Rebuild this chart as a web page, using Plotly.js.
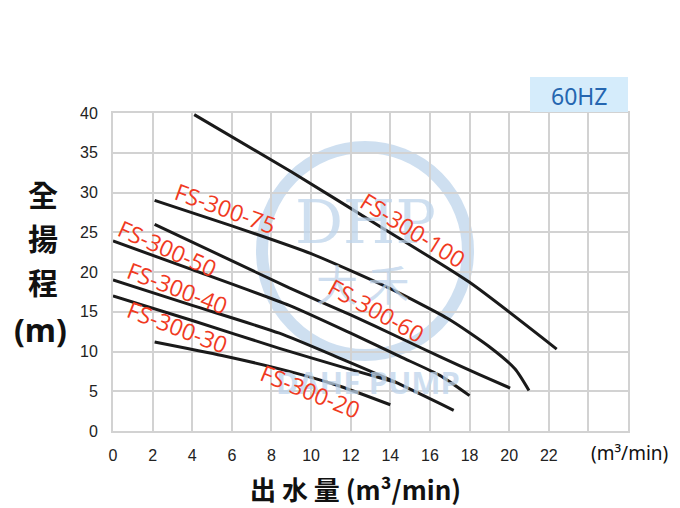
<!DOCTYPE html>
<html>
<head>
<meta charset="utf-8">
<script src="https://cdn.plot.ly/plotly-3.0.1.min.js"></script>
<style>html,body{margin:0;padding:0;background:#fff;}#chart{width:680px;height:508px;}</style>
</head>
<body>
<div id="chart"></div>
<script>
// ---- data (flow m3/min, head m) ----
const flow100 = [4.1, 9.0, 13.5, 18.0, 22.4];
const head100 = [39.8, 32.6, 25.7, 18.7, 10.3];
const flow75 = [2.1, 6.0, 10.0, 14.0, 17.0, 19.0, 20.3, 21.0];
const head75 = [29.0, 25.8, 22.3, 17.9, 14.0, 10.6, 7.8, 5.1];
const flow60 = [2.1, 5.5, 8.9, 12.0, 14.5, 16.5, 18.5, 20.05];
const head60 = [26.0, 22.0, 18.0, 14.6, 11.7, 9.35, 7.1, 5.4];
const flow50 = [0, 4.0, 8.9, 12.0, 14.5, 16.5, 18.0];
const head50 = [23.9, 20.3, 15.8, 12.3, 9.35, 7.0, 4.45];
const flow40 = [0, 4.0, 8.4, 11.5, 14.2, 17.2];
const head40 = [19.0, 15.8, 12.3, 9.1, 6.2, 2.6];
const flow30 = [0, 4.0, 8.4, 11.5, 14.3];
const head30 = [17.0, 13.9, 10.4, 8.1, 6.1];
const flow20 = [2.1, 5.5, 8.9, 11.5, 14.0];
const head20 = [11.2, 9.5, 7.5, 5.6, 3.3];

const xTickVals = [0, 2, 4, 6, 8, 10, 12, 14, 16, 18, 20, 22, 24, 26];
const xTickText = ['0','2','4','6','8','10','12','14','16','18','20','22','',''];
const yTickVals = [0, 5, 10, 15, 20, 25, 30, 35, 40];

const modelNames = ['FS-300-100','FS-300-75','FS-300-60','FS-300-50','FS-300-40','FS-300-30','FS-300-20'];
const series = [[flow100,head100],[flow75,head75],[flow60,head60],[flow50,head50],[flow40,head40],[flow30,head30],[flow20,head20]];

// label placement (data coords) and angles
const labelX = [15.15, 5.66, 13.28, 2.73, 3.28, 3.28, 9.95];
const labelY = [25.3, 28.05, 15.2, 23.0, 18.0, 13.1, 5.03];
const labelAngle = [32, 20, 29, 24, 21, 21, 22];

const traces = series.map((s, i) => ({
  x: s[0], y: s[1], type: 'scatter', mode: 'lines', name: modelNames[i],
  line: {color: '#1a1a1a', width: 3, shape: 'spline', smoothing: 0.6},
  hoverinfo: 'skip'
}));

const wm = 'rgba(190,212,235,0.75)';
const C = {xanchor: 'center', yanchor: 'middle', showarrow: false};
const annotations = modelNames.map((n, i) => Object.assign({
  x: labelX[i], y: labelY[i], xref: 'x', yref: 'y', text: n,
  textangle: labelAngle[i], font: {family: 'Open Sans, Noto Sans, sans-serif', size: 23, color: '#f03a1f'}
}, C));

function px(p){return (p-113)/515;}
function py(p){return (431-p)/318;}
function pa(x, y, text, font){return Object.assign({xref:'paper', yref:'paper', x: px(x), y: py(y), text: text, font: font}, C);}

// watermark text
annotations.unshift(
  pa(365, 222, 'DHP', {family:'DejaVu Serif, serif', size:60, color:wm}),
  pa(362, 282, '大 禾', {family:'Noto Sans CJK TC', size:42, color:wm}),
  pa(368, 382, '<b>DAHE PUMP</b>', {family:'Noto Sans, sans-serif', size:31, color:wm})
);

// titles & misc text
annotations.push(
  pa(43, 193, '全', {family:'Noto Sans CJK TC', size:30, color:'#111', weight:'bold'}),
  pa(43, 237, '揚', {family:'Noto Sans CJK TC', size:30, color:'#111', weight:'bold'}),
  pa(43, 281, '程', {family:'Noto Sans CJK TC', size:30, color:'#111', weight:'bold'}),
  pa(40, 329, '(m)', {family:'Noto Sans, sans-serif', size:32, color:'#111', weight:'bold'}),
  pa(355, 488, '出 水 量 (m³/min)', {family:'Noto Sans CJK TC', size:26, color:'#111', weight:'bold'}),
  pa(629, 453, '(m³/min)', {family:'Noto Sans, sans-serif', size:19, color:'#111'}),
  pa(579, 96, '60HZ', {family:'Noto Sans, sans-serif', size:23, color:'#2566b0'})
);

const shapes = [
  {type:'circle',xref:'paper',yref:'paper',x0:px(262),x1:px(468),y0:py(355),y1:py(147),line:{color:wm,width:12},layer:'below'},
  {type:'rect',xref:'paper',yref:'paper',x0:px(530),x1:px(628),y0:py(112),y1:py(77),fillcolor:'#d5ecfb',line:{width:0}}
];

const layout = {
  width: 680, height: 508,
  margin: {l: 113, r: 52, t: 113, b: 77},
  paper_bgcolor: '#fff', plot_bgcolor: '#fff',
  showlegend: false,
  xaxis: {range: [0, 26], tickvals: xTickVals, ticktext: xTickText, showgrid: true, gridcolor: '#d2d2d2', gridwidth: 2,
    zeroline: false, showline: true, linecolor: '#d2d2d2', linewidth: 2, mirror: true,
    ticks: 'outside', ticklen: 9, tickcolor: 'rgba(0,0,0,0)',
    tickfont: {family: 'Liberation Sans, Arial, sans-serif', size: 16, color: '#222'}},
  yaxis: {range: [0, 40], tickvals: yTickVals, showgrid: true, gridcolor: '#d2d2d2', gridwidth: 2,
    zeroline: false, showline: true, linecolor: '#d2d2d2', linewidth: 2, mirror: true,
    ticks: 'outside', ticklen: 10, tickcolor: 'rgba(0,0,0,0)',
    tickfont: {family: 'Liberation Sans, Arial, sans-serif', size: 16, color: '#222'}},
  annotations: annotations,
  shapes: shapes
};

Plotly.newPlot('chart', traces, layout, {displayModeBar: false, staticPlot: true});
</script>
</body>
</html>
